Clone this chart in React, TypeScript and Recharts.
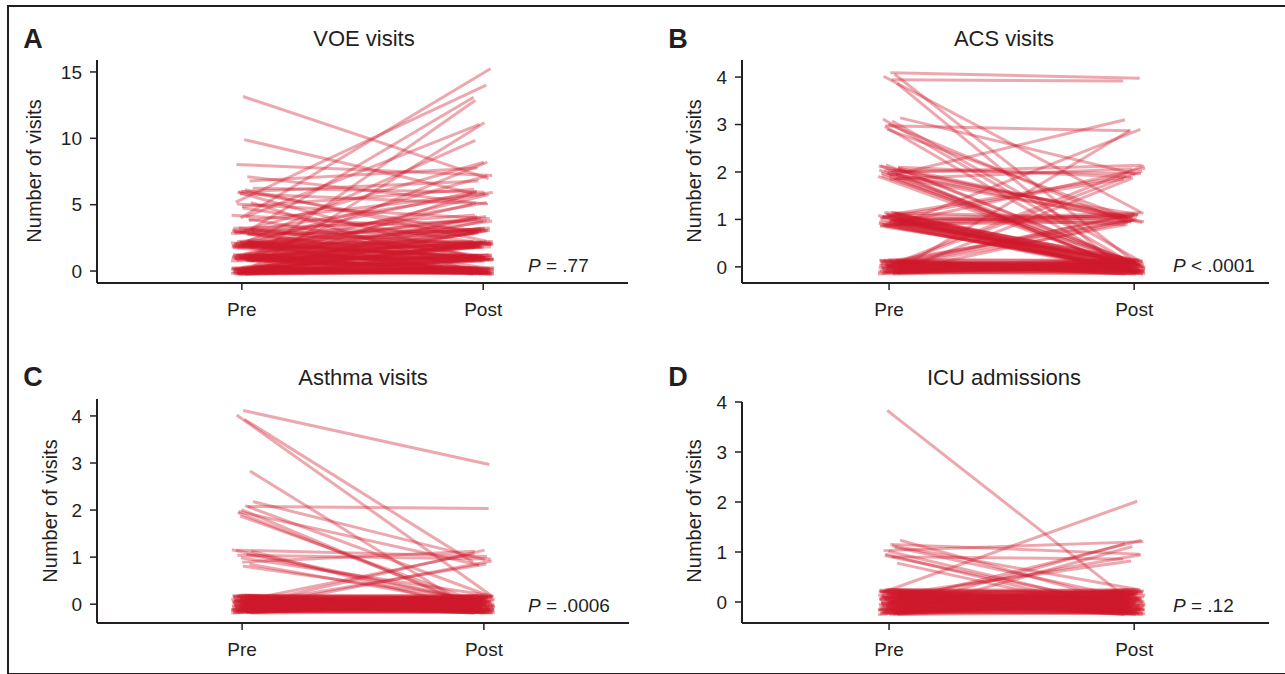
import React from 'react';
import { LineChart, Line, XAxis, YAxis } from 'recharts';

// Each entry: [pre visits, post visits, number of patients with that pair]
const voePairs: [number, number, number][] = [
  [13, 7, 1], [10, 6, 1], [8, 7, 1], [7, 8, 1], [7, 5, 1],
  [6, 7, 1], [6, 6, 1], [6, 5, 1], [6, 3, 1], [6, 2, 1], [6, 1, 1],
  [5, 14, 1], [5, 6, 1], [5, 4, 1], [5, 2, 1], [5, 0, 1],
  [4, 15, 1], [4, 11, 1], [4, 6, 1], [4, 3, 1], [4, 1, 1],
  [3, 13, 1], [3, 8, 1], [3, 6, 1], [3, 4, 2], [3, 3, 3], [3, 2, 2], [3, 1, 2], [3, 0, 2],
  [2, 10, 1], [2, 7, 1], [2, 6, 1], [2, 5, 1], [2, 4, 2], [2, 3, 3], [2, 2, 8], [2, 1, 6], [2, 0, 6],
  [1, 13, 1], [1, 8, 1], [1, 6, 1], [1, 5, 1], [1, 4, 2], [1, 3, 3], [1, 2, 7], [1, 1, 10], [1, 0, 11],
  [0, 11, 1], [0, 6, 1], [0, 4, 2], [0, 3, 4], [0, 2, 7], [0, 1, 11], [0, 0, 28],
];

const acsPairs: [number, number, number][] = [
  [4, 4, 2], [4, 1, 1], [4, 0, 2],
  [3, 3, 1], [3, 2, 1], [3, 1, 2], [3, 0, 3],
  [2, 3, 1], [2, 2, 4], [2, 1, 6], [2, 0, 9],
  [1, 3, 1], [1, 2, 3], [1, 1, 9], [1, 0, 30],
  [0, 3, 1], [0, 2, 3], [0, 1, 6], [0, 0, 50],
];

const asthmaPairs: [number, number, number][] = [
  [4, 3, 1], [4, 1, 1], [4, 0, 1], [3, 0, 1],
  [2, 2, 1], [2, 1, 2], [2, 0, 4],
  [1, 1, 3], [1, 0, 6],
  [0, 1, 4], [0, 0, 100],
];

const icuPairs: [number, number, number][] = [
  [1, 1, 3], [1, 0, 4], [4, 0, 1], [1, 0, 3],
  [0, 2, 1], [0, 1, 5], [0, 0, 110],
];

const periodLabels = ['Pre', 'Post'];
const voeTicks = [0, 5, 10, 15];
const countTicks = [0, 1, 2, 3, 4];

// fixed offsets used to spread overlapping lines apart (jitter), range -1..1
const JITTER = [0.61, -0.39, 0.11, -0.89, 0.39, -0.17, 0.94, -0.67, 0.06, 0.5, -0.28, 0.78,
  -0.56, 0.22, -1.0, 0.67, -0.06, 0.33, -0.78, 0.83, -0.33, 0.56, -0.22, 0.0, -0.5, 0.89,
  -0.94, 0.28, -0.61, 0.44, -0.11, 1.0, -0.83, 0.17, -0.44, 0.72, -0.72];

const INK = '#231f20';
const FONT = '"Liberation Sans", Arial, sans-serif';
const NARROW = '"Liberation Sans Narrow", "Arial Narrow", "Liberation Sans", sans-serif';

type Pt = { x: number; y: number };

function expand(pairs: [number, number, number][], yJit: number, xJit: number): Pt[][] {
  const out: Pt[][] = [];
  const L = JITTER.length;
  let k = 0;
  pairs.forEach(([pre, post, n]) => {
    for (let i = 0; i < n; i++) {
      const r = Math.floor(k / L) * 3;
      out.push([
        { x: 1 + JITTER[(k * 11 + 2 + r) % L] * xJit, y: pre + JITTER[k % L] * yJit },
        { x: 2 + JITTER[(k * 5 + 9 + r) % L] * xJit, y: post + JITTER[(k * 7 + 5 + r) % L] * yJit },
      ]);
      k++;
    }
  });
  return out;
}

interface PanelProps {
  left: number;
  top: number;
  pairs: [number, number, number][];
  yDomain: [number, number];
  yTicks: number[];
  xDomain: [number, number];
  margin: { top: number; right: number; bottom: number; left: number };
  yJit: number;
}

function Panel({ left, top, pairs, yDomain, yTicks, xDomain, margin, yJit }: PanelProps) {
  const lines = expand(pairs, yJit, 0.045);
  return (
    <div style={{ position: 'absolute', left, top }}>
      <LineChart width={640} height={340} margin={margin}>
        <XAxis
          type="number"
          dataKey="x"
          domain={xDomain}
          ticks={[1, 2]}
          interval={0}
          allowDataOverflow
          tickFormatter={(v: number) => periodLabels[v - 1]}
          axisLine={{ stroke: INK, strokeWidth: 2 }}
          tickLine={{ stroke: INK, strokeWidth: 1.5 }}
          tickSize={7}
          tickMargin={13}
          height={40}
          tick={{ fill: INK, fontSize: 19, fontFamily: FONT }}
        />
        <YAxis
          type="number"
          dataKey="y"
          domain={yDomain}
          ticks={yTicks}
          interval={0}
          allowDataOverflow
          axisLine={{ stroke: INK, strokeWidth: 2 }}
          tickLine={{ stroke: INK, strokeWidth: 1.5 }}
          tickSize={7}
          tickMargin={8}
          width={60}
          tick={{ fill: INK, fontSize: 19, fontFamily: FONT }}
        />
        {lines.map((d, i) => (
          <Line
            key={i}
            data={d}
            dataKey="y"
            type="linear"
            stroke="#d01a2c"
            strokeOpacity={0.38}
            strokeWidth={3}
            dot={false}
            activeDot={false}
            isAnimationActive={false}
          />
        ))}
      </LineChart>
    </div>
  );
}

const textBase: React.CSSProperties = {
  position: 'absolute',
  whiteSpace: 'nowrap',
  lineHeight: 1,
  color: INK,
  fontFamily: FONT,
};

function Centered({ x, y, size, children, rotate, bold, family }: { x: number; y: number; size: number; children: React.ReactNode; rotate?: boolean; bold?: boolean; family?: string }) {
  return (
    <div
      style={{
        ...textBase,
        left: x,
        top: y,
        fontSize: size,
        fontFamily: family ?? FONT,
        fontWeight: bold ? 700 : 400,
        transform: `translate(-50%, -50%)${rotate ? ' rotate(-90deg)' : ''}`,
      }}
    >
      {children}
    </div>
  );
}

function PValue({ x, y, text }: { x: number; y: number; text: string }) {
  return (
    <div style={{ ...textBase, left: x, top: y, fontSize: 19, transform: 'translateY(-50%)' }}>
      <i>P</i>{text}
    </div>
  );
}

export default function App() {
  return (
    <div style={{ position: 'absolute', left: 0, top: 0, width: 1285, height: 674, overflow: 'hidden', background: '#fff' }}>
      <div
        style={{
          position: 'absolute', left: 7, top: 5, width: 1290, height: 666,
          borderTop: `2px solid ${INK}`, borderLeft: `2px solid ${INK}`, borderBottom: `2px solid ${INK}`,
        }}
      />

      <Panel left={0} top={0} pairs={voePairs} yDomain={[-0.9, 15.9]} yTicks={voeTicks}
        xDomain={[0.4, 2.6]} margin={{ top: 60, right: 12, bottom: 17, left: 37 }} yJit={0.25} />
      <Panel left={640} top={0} pairs={acsPairs} yDomain={[-0.34, 4.36]} yTicks={countTicks}
        xDomain={[0.4, 2.55]} margin={{ top: 60, right: 11, bottom: 17, left: 42 }} yJit={0.15} />
      <Panel left={0} top={340} pairs={asthmaPairs} yDomain={[-0.4, 4.36]} yTicks={countTicks}
        xDomain={[0.4, 2.6]} margin={{ top: 59, right: 11, bottom: 17, left: 37 }} yJit={0.19} />
      <Panel left={640} top={340} pairs={icuPairs} yDomain={[-0.42, 4]} yTicks={countTicks}
        xDomain={[0.4, 2.55]} margin={{ top: 62, right: 11, bottom: 17, left: 42 }} yJit={0.25} />

      <Centered x={33} y={39} size={27} bold>A</Centered>
      <Centered x={678} y={39} size={27} bold>B</Centered>
      <Centered x={33} y={377} size={27} bold>C</Centered>
      <Centered x={678} y={377} size={27} bold>D</Centered>

      <Centered x={364} y={39} size={22}>VOE visits</Centered>
      <Centered x={1004} y={39} size={22}>ACS visits</Centered>
      <Centered x={363} y={378} size={22}>Asthma visits</Centered>
      <Centered x={1004} y={378} size={22}>ICU admissions</Centered>

      <Centered x={34} y={171} size={20} rotate family={NARROW}>Number of visits</Centered>
      <Centered x={694} y={171} size={20} rotate family={NARROW}>Number of visits</Centered>
      <Centered x={50} y={511} size={20} rotate family={NARROW}>Number of visits</Centered>
      <Centered x={694} y={511} size={20} rotate family={NARROW}>Number of visits</Centered>

      <PValue x={528} y={265} text=" = .77" />
      <PValue x={1173} y={265} text=" < .0001" />
      <PValue x={528} y={605} text=" = .0006" />
      <PValue x={1173} y={605} text=" = .12" />
    </div>
  );
}
